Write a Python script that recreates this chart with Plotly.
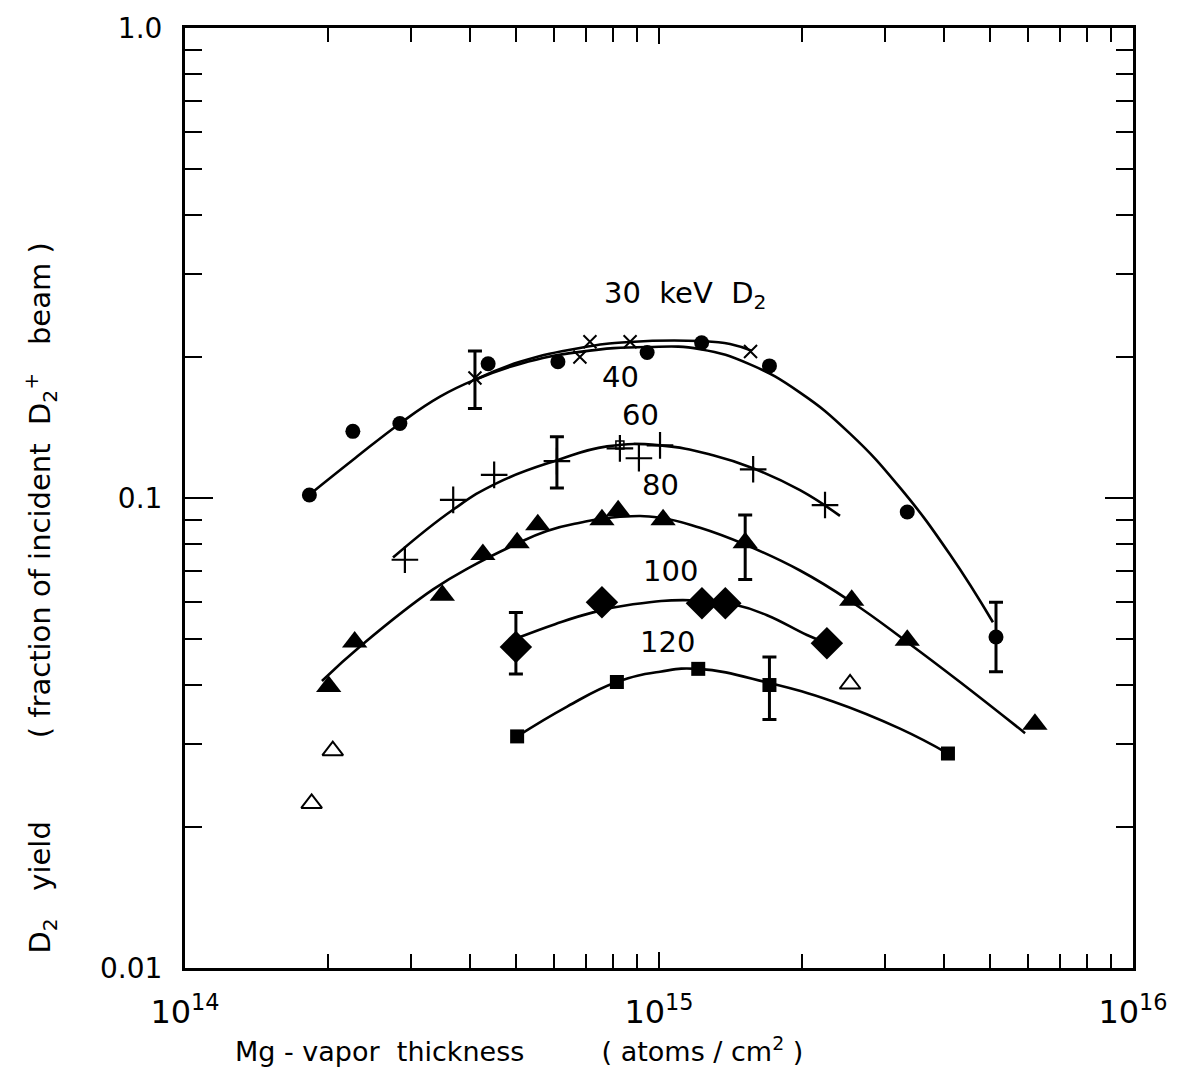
import math
import plotly.graph_objects as go

# ---------------- data ----------------
# 30 keV D2 : filled circles
c30_x = [1.83e14, 2.26e14, 2.84e14, 4.36e14, 6.12e14, 9.44e14, 1.23e15, 1.71e15, 3.34e15, 5.14e15]
c30_y = [0.1015, 0.1386, 0.144, 0.193, 0.195, 0.204, 0.214, 0.191, 0.0934, 0.0506]
# 40 keV : x markers
x40_x = [4.09e14, 6.81e14, 7.15e14, 8.69e14, 1.56e15]
x40_y = [0.180, 0.1996, 0.215, 0.215, 0.205]
# 60 keV : plus markers
p60_x = [2.91e14, 3.68e14, 4.49e14, 6.09e14, 8.27e14, 9.07e14, 1.005e15, 1.58e15, 2.24e15]
p60_y = [0.0739, 0.0991, 0.112, 0.1198, 0.1275, 0.1215, 0.1294, 0.1151, 0.0966]
sq60_x = [8.27e14]
sq60_y = [0.1297]
# 80 keV : filled triangles
t80_x = [2.01e14, 2.28e14, 3.49e14, 4.25e14, 5.02e14, 5.55e14, 7.58e14, 8.20e14, 1.02e15,
         1.52e15, 2.55e15, 3.34e15, 6.21e15]
t80_y = [0.0397, 0.0494, 0.0621, 0.0758, 0.0803, 0.0877, 0.0899, 0.0939, 0.0899,
         0.0803, 0.0606, 0.0498, 0.033]
# open triangles
ot_x = [1.85e14, 2.05e14, 2.53e15]
ot_y = [0.0224, 0.029, 0.0402]
# 100 keV : filled diamonds
d100_x = [4.99e14, 7.58e14, 1.232e15, 1.38e15, 2.26e15]
d100_y = [0.0482, 0.060, 0.0597, 0.0597, 0.0491]
# 120 keV : filled squares
s120_x = [5.02e14, 8.15e14, 1.21e15, 1.71e15, 4.07e15]
s120_y = [0.0311, 0.0406, 0.0433, 0.040, 0.0286]

# error bars (x, y, plus, minus)
err_x = [4.09e14, 5.14e15, 6.09e14, 1.52e15, 4.99e14, 1.71e15]
err_y = [0.180, 0.0506, 0.1198, 0.0803, 0.0482, 0.040]
err_hi = [0.0255, 0.0094, 0.0152, 0.0117, 0.0089, 0.0059]
err_lo = [0.025, 0.0079, 0.0148, 0.0132, 0.006, 0.0062]

# hand-drawn smooth curves
f30_x = [1.827e14, 2.284e14, 2.842e14, 3.451e14, 4.091e14, 5.09e14, 6.81e14, 9.434e14,
         1.221e15, 1.556e15, 1.984e15, 2.529e15, 3.224e15, 4.111e15, 5.065e15]
f30_y = [0.1015, 0.1215, 0.1441, 0.1643, 0.1785, 0.1929, 0.2046, 0.2096,
         0.2073, 0.1924, 0.1676, 0.1371, 0.1052, 0.0758, 0.0544]
f40_x = [4.091e14, 5.09e14, 6.81e14, 8.69e14, 1.221e15, 1.412e15, 1.571e15]
f40_y = [0.1785, 0.1949, 0.2086, 0.2148, 0.2158, 0.2127, 0.2056]
f60_x = [2.747e14, 3.676e14, 4.55e14, 6.094e14, 7.77e14, 1.005e15, 1.30e15,
         1.579e15, 1.984e15, 2.409e15]
f60_y = [0.0747, 0.0944, 0.1076, 0.1203, 0.1288, 0.1294, 0.1233,
         0.1157, 0.1039, 0.0916]
f80_x = [1.945e14, 2.374e14, 3.337e14, 4.051e14, 4.92e14, 5.80e14, 6.81e14, 8.27e14, 1.005e15,
         1.221e15, 1.519e15, 1.984e15, 2.554e15, 3.336e15, 4.315e15, 5.92e15]
f80_y = [0.0408, 0.0489, 0.0639, 0.0718, 0.0792, 0.0851, 0.0886, 0.0912, 0.0908,
         0.0864, 0.0796, 0.0701, 0.060, 0.0494, 0.0406, 0.0316]
f100_x = [5.09e14, 6.035e14, 7.26e14, 8.81e14, 1.163e15, 1.461e15, 1.69e15, 2.052e15, 2.26e15]
f100_y = [0.0506, 0.0539, 0.0571, 0.0594, 0.0606, 0.0591, 0.0563, 0.0511, 0.0491]
f120_x = [5.02e14, 6.40e14, 8.15e14, 1.005e15, 1.21e15, 1.71e15, 2.328e15, 3.224e15, 4.07e15]
f120_y = [0.0311, 0.036, 0.0406, 0.0427, 0.0433, 0.0404, 0.0369, 0.0323, 0.0286]

# curve labels
lab_text = ["30  keV  D<sub>2</sub>", "40", "60", "80", "100", "120"]
lab_x = [1.136e15, 8.28e14, 9.12e14, 1.005e15, 1.055e15, 1.04e15]
lab_y = [0.271, 0.181, 0.1505, 0.1066, 0.0701, 0.0494]

x_tickvals = [1e14, 1e15, 1e16]
x_ticktext = ["10<sup>14</sup>", "10<sup>15</sup>", "10<sup>16</sup>"]
y_tickvals = [0.01, 0.1, 1.0]
y_ticktext = ["0.01", "0.1", "1.0"]

# ---------------- figure ----------------
FONT = "DejaVu Sans"
K = "black"
fig = go.Figure()

def curve(x, y):
    fig.add_trace(go.Scatter(x=x, y=y, mode="lines",
                             line=dict(color=K, width=2.6, shape="spline", smoothing=1.3),
                             hoverinfo="skip", showlegend=False))

for cx, cy in [(f30_x, f30_y), (f40_x, f40_y), (f60_x, f60_y), (f80_x, f80_y),
               (f100_x, f100_y), (f120_x, f120_y)]:
    curve(cx, cy)

fig.add_trace(go.Scatter(x=err_x, y=err_y, mode="markers",
                         marker=dict(size=2, color="rgba(0,0,0,0)"),
                         error_y=dict(type="data", array=err_hi, arrayminus=err_lo,
                                      color=K, thickness=3, width=7),
                         showlegend=False))

def pts(x, y, symbol, size, lw=0):
    fig.add_trace(go.Scatter(x=x, y=y, mode="markers", showlegend=False,
                             marker=dict(symbol=symbol, size=size, color=K,
                                         line=dict(color=K, width=lw))))

pts(c30_x, c30_y, "circle", 15)
pts(x40_x, x40_y, "x-thin", 13, 2)
pts(p60_x, p60_y, "cross-thin", 19, 2.2)
pts(sq60_x, sq60_y, "square-open", 8, 1.5)
pts(t80_x, t80_y, "triangle-up", 22)
pts(ot_x, ot_y, "triangle-up-open", 18, 2)
pts(d100_x, d100_y, "diamond", 25)
pts(s120_x, s120_y, "square", 14)

for t, x, y in zip(lab_text, lab_x, lab_y):
    fig.add_annotation(x=math.log10(x), y=math.log10(y), xref="x", yref="y", text=t,
                       showarrow=False, font=dict(family=FONT, size=29, color=K))

# axis titles
fig.add_annotation(xref="paper", yref="paper", x=-0.153, y=0.394, textangle=-90,
                   xanchor="center", yanchor="middle",
                   text="D<sub>2</sub>   yield         ( fraction of incident  D<sub>2</sub><sup>+</sup>   beam )",
                   showarrow=False, font=dict(family=FONT, size=29, color=K))
fig.add_annotation(xref="paper", yref="paper", x=0.352, y=-0.0867,
                   xanchor="center", yanchor="middle",
                   text="Mg - vapor  thickness         ( atoms / cm<sup>2</sup> )",
                   showarrow=False, font=dict(family=FONT, size=27, color=K))

minor_x = [a * 10 ** e for e in (14, 15) for a in range(2, 10)]
minor_y = [a * 10 ** e for e in (-2, -1) for a in range(2, 10)]

fig.update_xaxes(type="log", range=[14, 16], showgrid=False, zeroline=False,
                 showline=True, linecolor=K, linewidth=3, mirror="allticks",
                 ticks="inside", ticklen=16, tickwidth=2, tickcolor=K,
                 tickvals=x_tickvals, ticktext=x_ticktext, ticklabelstandoff=14,
                 tickfont=dict(family=FONT, size=32, color=K),
                 minor=dict(tickvals=minor_x, ticks="inside", ticklen=14, tickwidth=2,
                            tickcolor=K, showgrid=False))
fig.update_yaxes(type="log", range=[-2, 0], showgrid=False, zeroline=False,
                 showline=True, linecolor=K, linewidth=3, mirror="allticks",
                 ticks="inside", ticklen=28, tickwidth=2, tickcolor=K,
                 tickvals=y_tickvals, ticktext=y_ticktext, ticklabelstandoff=14,
                 tickfont=dict(family=FONT, size=28, color=K),
                 minor=dict(tickvals=minor_y, ticks="inside", ticklen=17, tickwidth=2,
                            tickcolor=K, showgrid=False))

fig.update_layout(width=1181, height=1084, margin=dict(l=185, r=48, t=22, b=116),
                  paper_bgcolor="white", plot_bgcolor="white", showlegend=False,
                  font=dict(family=FONT, color=K))

fig.write_html("out.html")
